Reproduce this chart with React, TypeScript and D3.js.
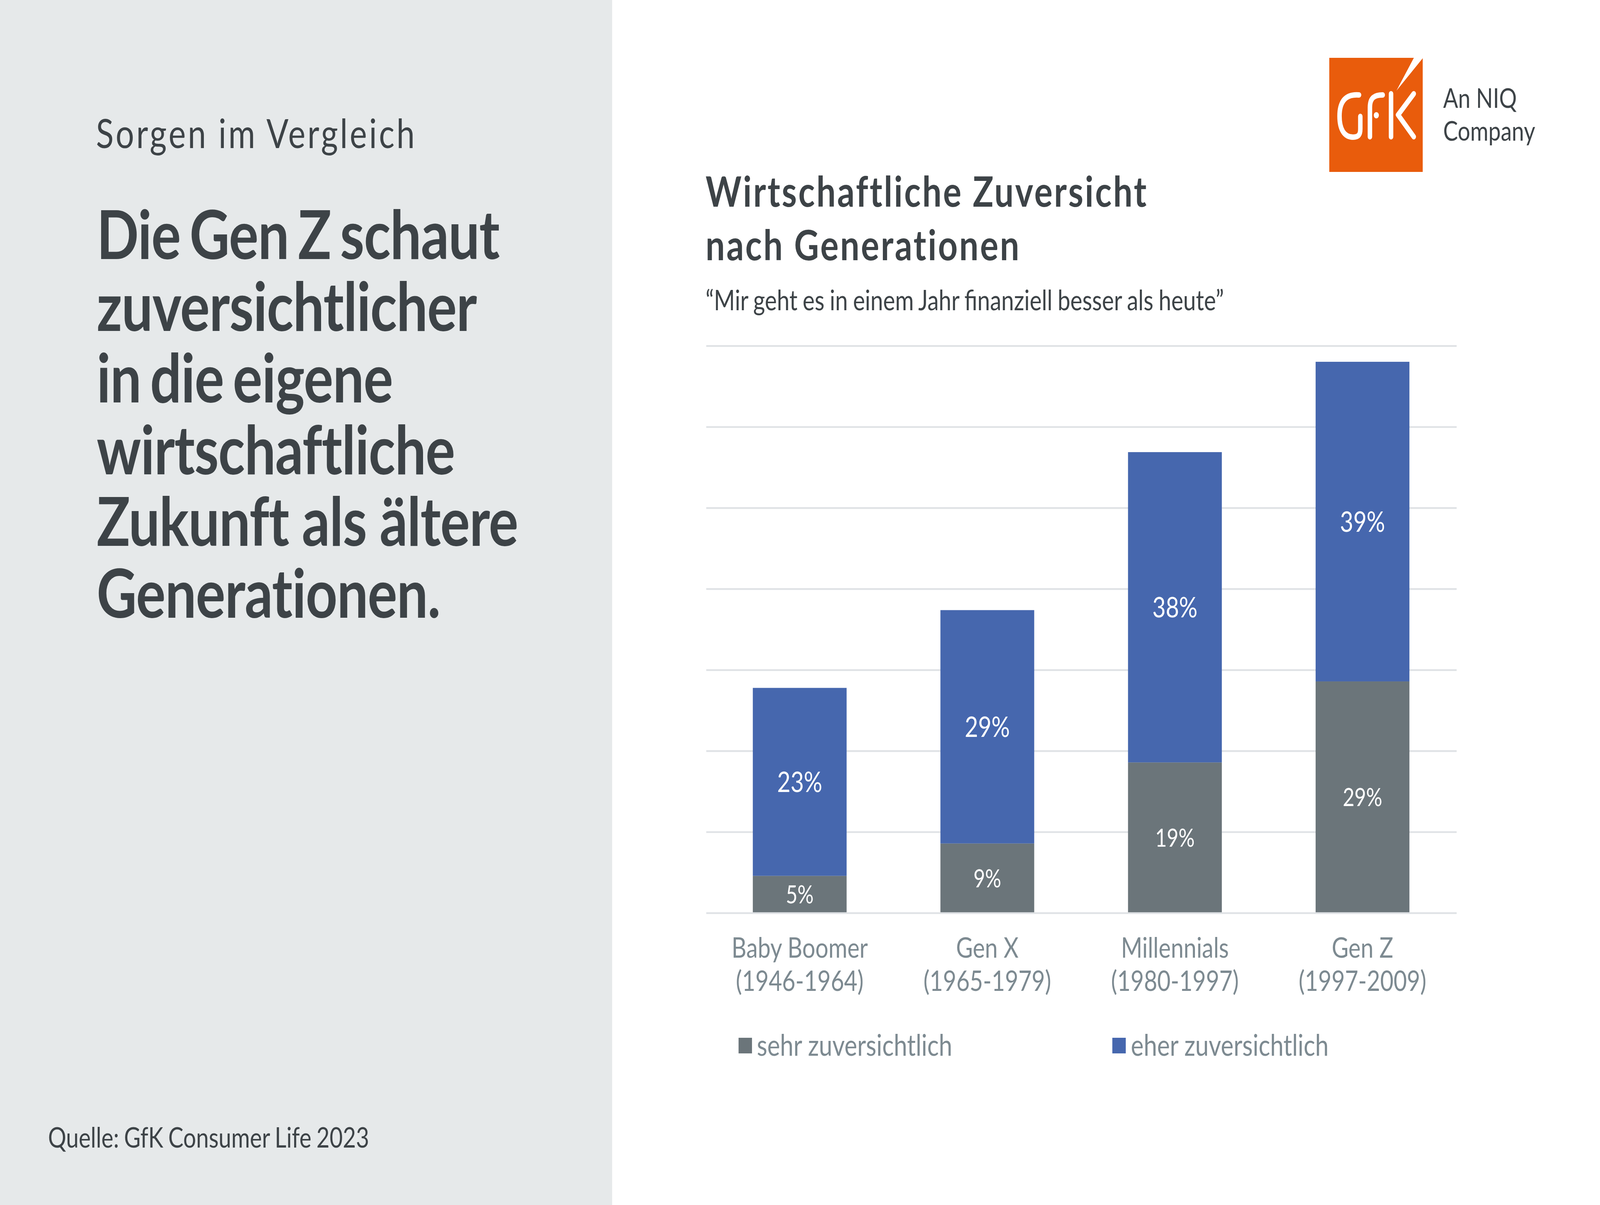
import React from "react";
import * as d3 from "d3";

const generations = ["Baby Boomer", "Gen X", "Millennials", "Gen Z"];
const birthYears = ["(1946-1964)", "(1965-1979)", "(1980-1997)", "(1997-2009)"];
const sehr = [4.6, 8.6, 18.6, 28.6];
const eher = [23.2, 28.8, 38.3, 39.45];
const gridTicks = [0, 10, 20, 30, 40, 50, 60, 70];
const headlineLines = ["Die Gen Z schaut", "zuversichtlicher", "in die eigene", "wirtschaftliche", "Zukunft als ältere", "Generationen."];
const seriesNames = ["sehr zuversichtlich", "eher zuversichtlich"];

const DARK = "#3d4347";
const GREY = "#6b757a";
const BLUE = "#4667ae";
const LABEL = "#7d8a91";
const FONT = "Lato, sans-serif";

export default function App() {
  const x = d3.scaleBand<string>().domain(generations).range([2206, 4551]).paddingInner(0.5).paddingOuter(0.25);
  const y = d3.scaleLinear().domain([0, 70]).range([2337, 885.5]);
  const pct = (v: number) => `${d3.format(".0f")(v)}%`;
  return (
    <svg viewBox="0 0 5000 3084" preserveAspectRatio="none" style={{ position: "fixed", left: 0, top: 0, width: "100vw", height: "100vh", display: "block" }} fontFamily={FONT}>
      <rect x={0} y={0} width={5000} height={3084} fill="#ffffff" />
      <rect x={0} y={0} width={1913} height={3084} fill="#e6e9ea" />

      <text x={300} y={379} fontSize={102} letterSpacing={6.4} fill={DARK}>Sorgen im Vergleich</text>
      {headlineLines.map((l, i) => (
        <text key={l} x={302} y={663 + i * 183.6} fontSize={173} fontWeight={700} letterSpacing={-1.5} wordSpacing={l.startsWith("Zukunft") ? 0 : -12} fill={DARK}>{l}</text>
      ))}
      <text x={150} y={2937} fontSize={71} wordSpacing={-2.5} fill={DARK}>Quelle: GfK Consumer Life 2023</text>

      {/* logo */}
      <rect x={4154} y={148} width={292} height={292} fill="#e95c0c" />
      <path d="M4419 147L4448 147L4364 232Z" fill="#ffffff" />
      <g fill="none" stroke="#ffffff" strokeWidth={14} strokeLinecap="round" strokeLinejoin="round">
        <path d="M4247 243C4205 240 4186 260 4186 297C4186 330 4200 351 4228 351C4245 351 4251 345 4251 330L4251 298" />
        <path d="M4281 350L4281 275C4281 250 4295 243 4321 243" />
        <path d="M4347 240L4347 350" />
        <path d="M4418 240L4369 294L4418 350" />
      </g>
      <circle cx={4301} cy={295} r={8} fill="#ffffff" />
      <text x={4510} y={276} fontSize={69} fill={DARK}>An NIQ</text>
      <text x={4510} y={360} fontSize={69} fill={DARK}>Company</text>

      <text x={2205} y={529} fontSize={107} fontWeight={700} letterSpacing={4.8} fill={DARK}>Wirtschaftliche Zuversicht</text>
      <text x={2205} y={666} fontSize={107} fontWeight={700} letterSpacing={4.8} fill={DARK}>nach Generationen</text>
      <text x={2205} y={794} fontSize={71} wordSpacing={-2} fill={DARK}>“Mir geht es in einem Jahr finanziell besser als heute”</text>

      {gridTicks.filter((t) => t > 0).map((t) => (
        <line key={t} x1={2207} x2={4552} y1={y(t)} y2={y(t)} stroke="#dfe2e5" strokeWidth={4.4} />
      ))}

      {generations.map((g, i) => {
        const bx = x(g) as number;
        const bw = x.bandwidth();
        const cx = bx + bw / 2;
        const top1 = y(sehr[i]);
        const top2 = y(sehr[i] + eher[i]);
        return (
          <g key={g}>
            <rect x={bx} y={top1} width={bw} height={y(0) - top1} fill={GREY} />
            <rect x={bx} y={top2} width={bw} height={top1 - top2} fill={BLUE} />
            <text x={cx} y={(top1 + y(0)) / 2} dy="0.36em" textAnchor="middle" fontSize={63} fill="#ffffff">{pct(sehr[i])}</text>
            <text x={cx} y={(top1 + top2) / 2} dy="0.36em" textAnchor="middle" fontSize={72} fill="#ffffff">{pct(eher[i])}</text>
            <text x={cx} y={2451} textAnchor="middle" fontSize={72} fill={LABEL}>{g}</text>
            <text x={cx} y={2536} textAnchor="middle" fontSize={72} fill={LABEL}>{birthYears[i]}</text>
          </g>
        );
      })}
      <line x1={2207} x2={4552} y1={y(0)} y2={y(0)} stroke="#dfe2e5" strokeWidth={4.4} />

      <rect x={2308} y={2656} width={42} height={40} fill={GREY} />
      <text x={2365} y={2702} fontSize={75.5} fill={LABEL}>{seriesNames[0]}</text>
      <rect x={3476} y={2656} width={42} height={40} fill={BLUE} />
      <text x={3534} y={2702} fontSize={75.5} fill={LABEL}>{seriesNames[1]}</text>
    </svg>
  );
}
